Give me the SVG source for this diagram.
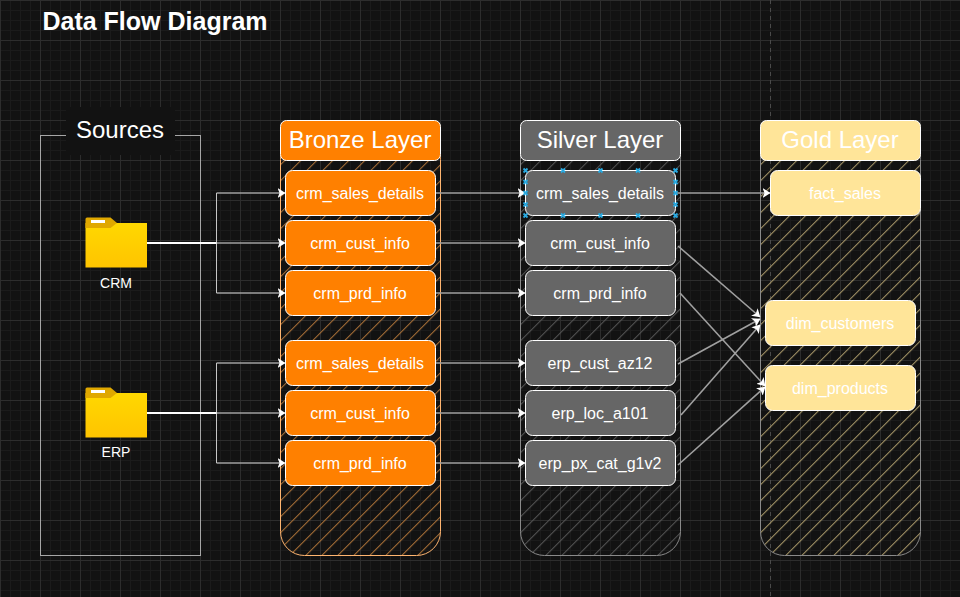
<svg xmlns="http://www.w3.org/2000/svg" width="960" height="597" viewBox="0 0 960 597">
<defs>
<pattern id="grid" width="40" height="40" patternUnits="userSpaceOnUse">
<path d="M10.500 0V40M20.500 0V40M30.500 0V40M0 10.500H40M0 20.500H40M0 30.500H40" stroke="#1b1b1b" stroke-width="1" fill="none"/>
<path d="M0.500 0V40M0 0.500H40" stroke="#2d2d2d" stroke-width="1" fill="none"/>
</pattern>
<pattern id="hO" x="8.840" width="11.314" height="11.314" patternUnits="userSpaceOnUse" patternTransform="rotate(45)"><path d="M0.500 0V11.314" stroke="#a66e36" stroke-width="1.100"/></pattern>
<pattern id="hS" x="8.840" width="11.314" height="11.314" patternUnits="userSpaceOnUse" patternTransform="rotate(45)"><path d="M0.500 0V11.314" stroke="#525252" stroke-width="1.100"/></pattern>
<pattern id="hG" x="8.840" width="11.314" height="11.314" patternUnits="userSpaceOnUse" patternTransform="rotate(45)"><path d="M0.500 0V11.314" stroke="#a39366" stroke-width="1.100"/></pattern>
<linearGradient id="fg" x1="0" y1="0" x2="0" y2="1"><stop offset="0" stop-color="#ffd800"/><stop offset="1" stop-color="#ffc400"/></linearGradient>
<marker id="a" viewBox="0 0 8 10" refX="7.500" refY="5" markerWidth="8" markerHeight="10" markerUnits="userSpaceOnUse" orient="auto"><path d="M0 0L8 5L0 10L2 5Z" fill="#fff"/></marker>
<path id="hx" d="M-2 -2L2 2M-2 2L2 -2" stroke="#29a9e0" stroke-width="1.800" fill="none"/>
</defs>
<style>
text{font-family:"Liberation Sans",Arial,sans-serif;fill:#fff;text-anchor:middle}
.t{font-size:16px}
.h{font-size:24px}
.n{stroke:#fff;stroke-width:1}
.o{fill:#ff8000}.s{fill:#666}.g{fill:#ffe599}
.c{fill:none;stroke:#a0a0a0;stroke-width:1.600;marker-end:url(#a)}
.v{fill:none;stroke:#c8c8c8;stroke-width:1}
</style>
<rect width="960" height="597" fill="#121212"/>
<rect width="960" height="597" fill="url(#grid)"/>
<path d="M770.500 0V597" stroke="#4a4a4a" stroke-dasharray="4 4"/>
<g id="sources">
<rect x="40.500" y="135.500" width="160" height="420" fill="none" stroke="#a6a6a6"/>
<rect x="66" y="107" width="109" height="48" fill="#121212"/>
<text x="120" y="138" style="font-size:24px">Sources</text>
</g>
<g id="bronze-container"><rect x="280.500" y="135.500" width="160" height="420" rx="24" fill="url(#hO)" stroke="#ffb570"/></g>
<g id="silver-container"><rect x="520.500" y="135.500" width="160" height="420" rx="24" fill="url(#hS)" stroke="#8a8a8a"/></g>
<g id="gold-container"><rect x="760.500" y="135.500" width="160" height="420" rx="24" fill="url(#hG)" stroke="#8a8a8a"/></g>
<g id="connectors">
<path class="c" d="M216.500 193H285"/>
<path class="c" d="M147 243H285"/>
<path class="c" d="M216.500 293H285"/>
<path class="c" d="M216.500 363H285"/>
<path class="c" d="M147 413H285"/>
<path class="c" d="M216.500 463H285"/>
<path class="v" d="M216.500 193V293M216.500 363V463"/>
<path class="c" d="M436 193H525"/>
<path class="c" d="M436 243H525"/>
<path class="c" d="M436 293H525"/>
<path class="c" d="M436 363H525"/>
<path class="c" d="M436 413H525"/>
<path class="c" d="M436 463H525"/>
<path class="c" d="M676 193H770"/>
<path class="c" d="M678 246L760 317"/>
<path class="c" d="M680 293L765 386"/>
<path class="c" d="M678 364L760 319"/>
<path class="c" d="M681 415L760 325"/>
<path class="c" d="M678 465L765 387"/>
<rect x="147" y="242" width="69.500" height="2" fill="#fff"/>
<rect x="147" y="412" width="69.500" height="2" fill="#fff"/>
</g>
<g id="crm-folder">
<path d="M85.500 223V219Q85.500 217.500 87 217.500H110.500L117 223Z" fill="#e0a800"/>
<path d="M85.500 223H147V267.500H85.500Z" fill="url(#fg)"/>
<path d="M85.500 223H117L110.500 228H85.500Z" fill="#e0a800"/>
<rect x="91" y="220" width="14" height="3" fill="#fff"/>
<text x="116" y="288" style="font-size:14px">CRM</text>
</g>
<g id="erp-folder">
<path d="M85.500 393V389Q85.500 387.500 87 387.500H110.500L117 393Z" fill="#e0a800"/>
<path d="M85.500 393H147V437.500H85.500Z" fill="url(#fg)"/>
<path d="M85.500 393H117L110.500 398H85.500Z" fill="#e0a800"/>
<rect x="91" y="390" width="14" height="3" fill="#fff"/>
<text x="116" y="457" style="font-size:14px">ERP</text>
</g>
<g id="bronze-title"><rect class="n o" x="280.500" y="120.500" width="160" height="40" rx="6"/><text class="h" x="360" y="148">Bronze Layer</text></g>
<g id="silver-title"><rect class="n s" x="520.500" y="120.500" width="160" height="40" rx="6"/><text class="h" x="600" y="148">Silver Layer</text></g>
<g id="gold-title"><rect class="n g" x="760.500" y="120.500" width="160" height="40" rx="6"/><text class="h" x="840" y="148">Gold Layer</text></g>
<g id="b1"><rect class="n o" x="285.500" y="170.500" width="150" height="45" rx="7"/><text class="t" x="360" y="199">crm_sales_details</text></g>
<g id="b2"><rect class="n o" x="285.500" y="220.500" width="150" height="45" rx="7"/><text class="t" x="360" y="249">crm_cust_info</text></g>
<g id="b3"><rect class="n o" x="285.500" y="270.500" width="150" height="45" rx="7"/><text class="t" x="360" y="299">crm_prd_info</text></g>
<g id="b4"><rect class="n o" x="285.500" y="340.500" width="150" height="45" rx="7"/><text class="t" x="360" y="369">crm_sales_details</text></g>
<g id="b5"><rect class="n o" x="285.500" y="390.500" width="150" height="45" rx="7"/><text class="t" x="360" y="419">crm_cust_info</text></g>
<g id="b6"><rect class="n o" x="285.500" y="440.500" width="150" height="45" rx="7"/><text class="t" x="360" y="469">crm_prd_info</text></g>
<g id="s1"><rect class="n s" x="525.500" y="170.500" width="150" height="45" rx="7"/><text class="t" x="600" y="199">crm_sales_details</text>
<use href="#hx" x="525.500" y="170.500"/><use href="#hx" x="563" y="170.500"/><use href="#hx" x="600.500" y="170.500"/><use href="#hx" x="638" y="170.500"/><use href="#hx" x="675.500" y="170.500"/>
<use href="#hx" x="525.500" y="215.500"/><use href="#hx" x="563" y="215.500"/><use href="#hx" x="600.500" y="215.500"/><use href="#hx" x="638" y="215.500"/><use href="#hx" x="675.500" y="215.500"/>
<use href="#hx" x="525.500" y="182"/><use href="#hx" x="525.500" y="193"/><use href="#hx" x="525.500" y="204.500"/>
<use href="#hx" x="675.500" y="182"/><use href="#hx" x="675.500" y="193"/><use href="#hx" x="675.500" y="204.500"/></g>
<g id="s2"><rect class="n s" x="525.500" y="220.500" width="150" height="45" rx="7"/><text class="t" x="600" y="249">crm_cust_info</text></g>
<g id="s3"><rect class="n s" x="525.500" y="270.500" width="150" height="45" rx="7"/><text class="t" x="600" y="299">crm_prd_info</text></g>
<g id="s4"><rect class="n s" x="525.500" y="340.500" width="150" height="45" rx="7"/><text class="t" x="600" y="369">erp_cust_az12</text></g>
<g id="s5"><rect class="n s" x="525.500" y="390.500" width="150" height="45" rx="7"/><text class="t" x="600" y="419">erp_loc_a101</text></g>
<g id="s6"><rect class="n s" x="525.500" y="440.500" width="150" height="45" rx="7"/><text class="t" x="600" y="469">erp_px_cat_g1v2</text></g>
<g id="g1"><rect class="n g" x="770.500" y="170.500" width="150" height="45" rx="7"/><text class="t" x="845" y="199">fact_sales</text></g>
<g id="g2"><rect class="n g" x="765.500" y="300.500" width="150" height="45" rx="7"/><text class="t" x="840" y="329">dim_customers</text></g>
<g id="g3"><rect class="n g" x="765.500" y="365.500" width="150" height="45" rx="7"/><text class="t" x="840" y="394">dim_products</text></g>
<text x="155" y="30" style="font-size:25px;font-weight:bold">Data Flow Diagram</text>
</svg>
